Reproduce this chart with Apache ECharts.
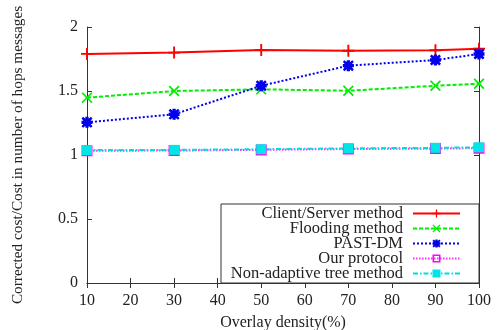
<!DOCTYPE html>
<html><head><meta charset="utf-8">
<script src="https://cdn.jsdelivr.net/npm/echarts@6/dist/echarts.min.js"></script>
<style>html,body{margin:0;padding:0;background:#fff}#c{width:498px;height:330px}</style>
</head><body><div id="c"></div>
<script>
const categories = [10, 30, 50, 70, 90, 100];
const clientServer = [1.79, 1.80, 1.82, 1.815, 1.818, 1.83];
const flooding = [1.448, 1.50, 1.513, 1.502, 1.541, 1.557];
const pastDM = [1.255, 1.318, 1.541, 1.698, 1.742, 1.789];
const ourProtocol = [1.033, 1.035, 1.04, 1.047, 1.05, 1.053];
const nonAdaptive = [1.038, 1.04, 1.045, 1.052, 1.056, 1.06];
const xTicks = [10, 20, 30, 40, 50, 60, 70, 80, 90, 100];
const yTicks = [0, 0.5, 1, 1.5, 2];

const plus = 'path://M4.2,0H5.8V10H4.2ZM0,4.2H10V5.8H0Z';
const cross = 'path://M1.1,0L5,3.9L8.9,0L10,1.1L6.1,5L10,8.9L8.9,10L5,6.1L1.1,10L0,8.9L3.9,5L0,1.1Z';
const star = 'path://M1.5,0L5,3L8.5,0L10,1.5L7,5L10,8.5L8.5,10L5,7L1.5,10L0,8.5L3,5L0,1.5ZM3.5,0H6.5V10H3.5ZM0,3.5H10V6.5H0Z';
const hollowSq = 'path://M0,0H10V10H0ZM2,2V8H8V2Z';

const font = 'Liberation Serif';
const chart = echarts.init(document.getElementById('c'));
function pairs(arr){ return categories.map((c,i)=>[c,arr[i]]); }
const axisLine = {show:true, lineStyle:{color:'#333', width:1}};
chart.setOption({
  animation:false,
  grid:{left:87, right:19, top:27, bottom:47, containLabel:false, outerBoundsMode:'none'},
  xAxis:[{
    type:'value', min:10, max:100, interval:10,
    name:'Overlay density(%)', nameLocation:'middle', nameGap:32,
    nameTextStyle:{fontFamily:font, fontSize:16, color:'#222'},
    axisLine:axisLine, axisTick:{show:true, inside:true, length:5, lineStyle:{color:'#333'}},
    axisLabel:{fontFamily:font, fontSize:16, color:'#222', margin:10,
      formatter:v=>xTicks.includes(v)?String(v):''},
    splitLine:{show:false}
  },{
    type:'value', min:10, max:100, interval:10, position:'top',
    axisLine:axisLine, axisTick:{show:true, inside:true, length:5, lineStyle:{color:'#333'}},
    axisLabel:{show:false}, splitLine:{show:false}
  }],
  yAxis:[{
    type:'value', min:0, max:2, interval:0.5,
    name:'Corrected cost/Cost in number of hops messages', nameLocation:'middle', nameGap:62,
    nameTextStyle:{fontFamily:font, fontSize:15.3, color:'#222'},
    axisLine:axisLine, axisTick:{show:true, inside:true, length:5, lineStyle:{color:'#333'}},
    axisLabel:{fontFamily:font, fontSize:16, color:'#222', margin:9,
      formatter:v=>yTicks.includes(v)?String(v):''},
    splitLine:{show:false}
  },{
    type:'value', min:0, max:2, interval:0.5, position:'right',
    axisLine:axisLine, axisTick:{show:true, inside:true, length:5, lineStyle:{color:'#333'}},
    axisLabel:{show:false}, splitLine:{show:false}
  }],
  legend:{
    orient:'vertical', left:221, top:204, align:'right',
    backgroundColor:'#fff', borderColor:'#333', borderWidth:1,
    padding:[1,18,1,7], itemGap:-2, itemWidth:47, itemHeight:10,
    textStyle:{fontFamily:font, fontSize:16.5, lineHeight:14.5, color:'#222', width:175, align:'right', padding:[0,5,0,0]},
    data:['Client/Server method','Flooding method','PAST-DM','Our protocol','Non-adaptive tree method']
  },
  series:[
    {name:'Client/Server method', type:'line', data:pairs(clientServer), symbol:plus, symbolSize:12,
      lineStyle:{color:'#ff0000', width:2}, itemStyle:{color:'#ff0000'}},
    {name:'Flooding method', type:'line', data:pairs(flooding), symbol:cross, symbolSize:11,
      lineStyle:{color:'#00ee00', width:2, type:[4,2]}, itemStyle:{color:'#00ee00'}},
    {name:'PAST-DM', type:'line', data:pairs(pastDM), symbol:star, symbolSize:11,
      lineStyle:{color:'#0000ee', width:2, type:[2,2]}, itemStyle:{color:'#0000ee'}},
    {name:'Our protocol', type:'line', data:pairs(ourProtocol), symbol:hollowSq, symbolSize:11,
      lineStyle:{color:'#ff33ff', width:2, type:[1.5,1.5]}, itemStyle:{color:'#ff00ff'}},
    {name:'Non-adaptive tree method', type:'line', data:pairs(nonAdaptive), symbol:'rect', symbolSize:10,
      lineStyle:{color:'#00dddd', width:2, type:[5,2,1.5,2]}, itemStyle:{color:'#00e5e5'}}
  ]
});
</script></body></html>
